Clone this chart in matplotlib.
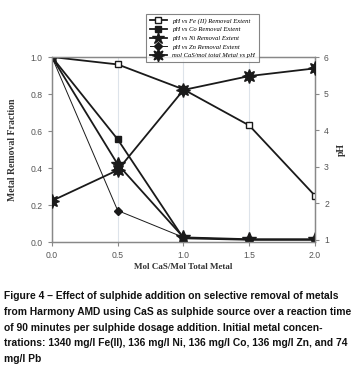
import numpy as np
import matplotlib
matplotlib.use("Agg")
import matplotlib.pyplot as plt
from matplotlib import rcParams

# data
dose = [0.0, 0.5, 1.0, 1.5, 2.0]
fe_removal = [1.0, 0.96, 0.825, 0.63, 0.25]
co_removal = [1.0, 0.555, 0.02, 0.012, 0.012]
ni_removal = [1.0, 0.42, 0.025, 0.015, 0.015]
zn_removal = [1.0, 0.17, 0.025, 0.012, 0.012]
ph_values = [2.07, 2.91, 5.1, 5.48, 5.69]

labels = ["pH vs Fe (II) Removal Extent", "pH vs Co Removal Extent",
          "pH vs Ni Removal Extent", "pH vs Zn Removal Extent",
          "mol CaS/mol total Metal vs pH"]

caption = ("Figure 4 \u2013 Effect of sulphide addition on selective removal of metals\n"
           "from Harmony AMD using CaS as sulphide source over a reaction time\n"
           "of 90 minutes per sulphide dosage addition. Initial metal concen-\n"
           "trations: 1340 mg/l Fe(II), 136 mg/l Ni, 136 mg/l Co, 136 mg/l Zn, and 74\n"
           "mg/l Pb")

rcParams['font.family'] = "Liberation Sans"

fig = plt.figure(figsize=(3.58, 3.71), dpi=100)
ax = fig.add_axes([0.145, 0.3477, 0.735, 0.4986])
ax2 = ax.twinx()

lc = "#1a1a1a"
h1, = ax.plot(dose, fe_removal, marker='s', ms=5, mfc='white', mec=lc, color=lc, lw=1.3, zorder=3)
h2, = ax.plot(dose, co_removal, marker='s', ms=5, color=lc, lw=1.3, zorder=3)
h3, = ax.plot(dose, ni_removal, marker='*', ms=10, color=lc, lw=1.3, zorder=3)
h4, = ax.plot(dose, zn_removal, marker='D', ms=4, color=lc, lw=0.7, zorder=3)
h5, = ax2.plot(dose, ph_values, marker=(8, 1, 0), ms=10, color=lc, lw=1.3, zorder=3)

ax.set_xlim(0, 2.0)
ax.set_ylim(0, 1.0)
ax2.set_ylim(0.945, 6)
ax.set_xticks([0.0, 0.5, 1.0, 1.5, 2.0])
ax.set_yticks(np.arange(0, 1.01, 0.2))
ax2.set_yticks([1, 2, 3, 4, 5, 6])
ax.xaxis.grid(True, color="#dde3ea", lw=0.8)
ax.set_axisbelow(True)

for a in (ax, ax2):
    for s in a.spines.values():
        s.set_color("#888888")
        s.set_linewidth(0.9)
    a.tick_params(labelsize=6.2, colors="#888888", labelcolor="#555555", length=3, width=0.8)
ax.xaxis.set_major_formatter(plt.FormatStrFormatter('%.1f'))
ax.yaxis.set_major_formatter(plt.FormatStrFormatter('%.1f'))

ax.set_xlabel("Mol CaS/Mol Total Metal", family="Liberation Serif", weight="bold", fontsize=6.5, color="#333333", labelpad=2)
ax.set_ylabel("Metal Removal Fraction", family="Liberation Serif", weight="bold", fontsize=7, color="#333333", labelpad=10)
ax2.set_ylabel("pH", family="Liberation Serif", weight="bold", fontsize=7, color="#333333", labelpad=6)

leg = fig.legend([h1, h2, h3, h4, h5], labels, loc="upper left",
                 bbox_to_anchor=(143 / 358, 1 - 11 / 371),
                 prop={'family': 'Liberation Serif', 'style': 'italic', 'size': 4.8},
                 frameon=True, fancybox=False, edgecolor="#666666",
                 handlelength=2.6, labelspacing=0.45, borderpad=0.5, markerscale=0.9)
leg.get_frame().set_linewidth(0.8)

fig.text(0.012, 1 - 291 / 371, caption, ha='left', va='top', fontsize=7.4,
         weight='bold', linespacing=1.72, color="#111111")

fig.savefig("out.png", dpi=100)
